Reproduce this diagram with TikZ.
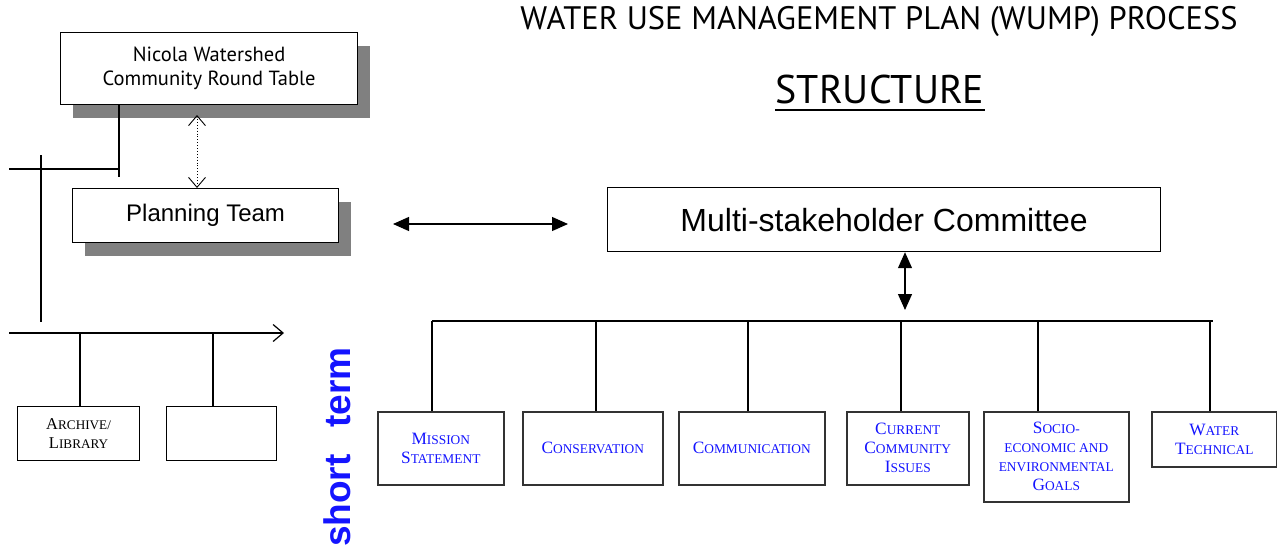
\documentclass[tikz,border=0pt]{standalone}
\usepackage{fontspec}
\newfontfamily\titlefont{PT Sans}
\newfontfamily\arialfont{Liberation Sans}
\newfontfamily\timesfont{Liberation Serif}
\usetikzlibrary{arrows.meta,shadows}
\definecolor{tblue}{RGB}{20,20,255}
\newcommand\fsc[2]{{\fontsize{17.3}{19}\selectfont #1}{\fontsize{13.4}{19}\selectfont #2}}
\newcommand\fscs[2]{{\fontsize{16.5}{19}\selectfont #1}{\fontsize{13.2}{19}\selectfont #2}}
\begin{document}
\begin{tikzpicture}[x=1pt,y=-1pt,line width=1.2pt,
  box/.style={draw, fill=white, anchor=north west, inner sep=2pt, align=center},
  shbox/.style={box, drop shadow={shadow xshift=12pt, shadow yshift=-13pt, fill=black!50, opacity=1}},
  sbox/.style={box, text=tblue, font=\timesfont\fontsize{13.4}{19}\selectfont, line width=1.6pt, draw=black!80},
  openarr/.style={{Straight Barb[length=10pt,width=17pt]}-{Straight Barb[length=10pt,width=17pt]}},
  fillarr/.style={{Triangle[length=16pt,width=14pt]}-{Triangle[length=16pt,width=14pt]}}]
\useasboundingbox (0,0) rectangle (1277,547);
% titles
\node[font=\titlefont\fontsize{32.5}{32.5}\selectfont] (title) at (879,22) {WATER USE MANAGEMENT PLAN (WUMP) PROCESS};
\node[font=\titlefont\fontsize{40}{40}\selectfont, inner sep=0pt] (struct) at (880,89) {STRUCTURE};
\draw[line width=2.2pt] (struct.south west) ++(0,6) coordinate (u1) -- (u1 -| struct.south east);
% left boxes
\node[shbox, minimum width=297pt, minimum height=72pt, font=\titlefont\fontsize{20.5}{24}\selectfont] (nicola) at (60,32) {Nicola Watershed\\Community Round Table};
\node[shbox, minimum width=266pt, minimum height=54pt, font=\arialfont\fontsize{24}{26}\selectfont] (plan) at (72,188) {Planning Team};
\node[box, minimum width=122pt, minimum height=54pt, font=\timesfont\fontsize{13.2}{19}\selectfont] (arch) at (17,406) {\fscs{A}{RCHIVE/}\\\fscs{L}{IBRARY}};
\node[box, minimum width=110pt, minimum height=54pt] (blank) at (166,406) {};
% left lines
\coordinate (n1) at (119,177);
\coordinate (h1) at (9,169);
\draw (nicola.south -| n1) -- (n1);
\draw (h1) -- (h1 -| n1);
\coordinate (v1) at (41,155);
\coordinate (v2) at (41,322);
\draw (v1) -- (v2);
\coordinate (a1) at (9,333);
\coordinate (a2) at (284,333);
\draw[-{Straight Barb[length=10pt,width=17pt]}] (a1) -- (a2);
\coordinate (c1) at (80,333);
\coordinate (c2) at (213,333);
\draw (c1) -- (c1 |- arch.north);
\draw (c2) -- (c2 |- blank.north);
\coordinate (d1) at (197,115);
\draw[openarr, dotted, line width=0.9pt] (d1) -- (d1 |- plan.north);
% short term
\node[rotate=90, text=tblue, font=\arialfont\bfseries\fontsize{37}{37}\selectfont, inner sep=0pt] (short) at (337,447) {short\hspace{27pt}term};
% right
\node[box, minimum width=553pt, minimum height=64pt, font=\arialfont\fontsize{32}{34}\selectfont] (msc) at (607,187) {Multi-stakeholder Committee};
\coordinate (p1) at (393,224);
\coordinate (p2) at (568,224);
\draw[fillarr] (p1) -- (p2);
\coordinate (va) at (905,310);
\draw[fillarr] (va |- msc.south) -- (va);
\coordinate (b1) at (432,321);
\coordinate (b2) at (1213,321);
\draw (b1) -- (b2);
\node[sbox, minimum width=126pt, minimum height=73pt] (mis) at (377,411) {\fsc{M}{ISSION}\\\fsc{S}{TATEMENT}};
\node[sbox, minimum width=140pt, minimum height=73pt] (con) at (522,411) {\fsc{C}{ONSERVATION}};
\node[sbox, minimum width=146pt, minimum height=73pt] (com) at (678,411) {\fsc{C}{OMMUNICATION}};
\node[sbox, minimum width=122pt, minimum height=73pt] (cur) at (846,411) {\fsc{C}{URRENT}\\\fsc{C}{OMMUNITY}\\\fsc{I}{SSUES}};
\node[sbox, minimum width=145pt, minimum height=90pt] (soc) at (983,411) {\fsc{S}{OCIO-}\\\fsc{}{ECONOMIC AND}\\\fsc{}{ENVIRONMENTAL}\\\fsc{G}{OALS}};
\node[sbox, minimum width=125pt, minimum height=55pt] (wat) at (1151,411) {\fsc{W}{ATER}\\\fsc{T}{ECHNICAL}};
\foreach \n/\x in {mis/432, con/596, com/748, cur/901, soc/1038, wat/1210}{
  \coordinate (t\n) at (\x,321);
  \draw (t\n) -- (t\n |- \n.north);
}
\end{tikzpicture}
\end{document}
